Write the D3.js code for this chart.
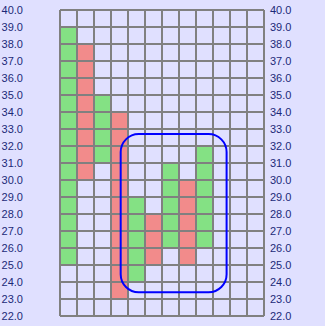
<!DOCTYPE html>
<html><head><meta charset="utf-8">
<script src="https://cdn.jsdelivr.net/npm/d3@7"></script>
<style>html,body{margin:0;padding:0;background:#e0e0ff;}svg{display:block;}</style>
</head><body>
<script>
const categories = ["0","1","2","3","4","5","6","7","8","9","10","11"];
const lows  = [25, 30, 31, 23, 24, 25, 26, 25, 26];
const highs = [39, 38, 35, 34, 29, 28, 31, 30, 32];
const kinds = ["up","down","up","down","up","down","up","down","up"];
const yTicks = [22,23,24,25,26,27,28,29,30,31,32,33,34,35,36,37,38,39,40];
const highlight = {x0: 3.57, x1: 9.8, y0: 23.4, y1: 32.7};

const W = 325, H = 326;
const m = {left: 60, right: 61, top: 10, bottom: 10};
const svg = d3.select("body").append("svg").attr("width", W).attr("height", H);
svg.append("rect").attr("width", W).attr("height", H).attr("fill", "#e0e0ff");

const x = d3.scaleBand().domain(categories).range([m.left, W - m.right]).padding(0);
const xl = d3.scaleLinear().domain([0, categories.length]).range([m.left, W - m.right]);
const y = d3.scaleLinear().domain([22, 40]).range([H - m.bottom, m.top]);

const colors = {up: "#84e184", down: "#f28b8b"};
svg.append("g").selectAll("rect").data(lows).join("rect")
  .attr("x", (d, i) => x(categories[i]))
  .attr("width", x.bandwidth())
  .attr("y", (d, i) => y(highs[i]))
  .attr("height", (d, i) => y(lows[i]) - y(highs[i]))
  .attr("fill", (d, i) => colors[kinds[i]]);

const grid = svg.append("g").attr("stroke", "#808080").attr("stroke-width", 1.5).attr("shape-rendering", "crispEdges");
grid.selectAll("line.h").data(yTicks).join("line").attr("class", "h")
  .attr("x1", m.left).attr("x2", W - m.right)
  .attr("y1", d => Math.round(y(d))).attr("y2", d => Math.round(y(d)));
grid.selectAll("line.v").data(d3.range(categories.length + 1)).join("line").attr("class", "v")
  .attr("y1", m.top).attr("y2", H - m.bottom)
  .attr("x1", d => Math.round(xl(d))).attr("x2", d => Math.round(xl(d)));

const left = svg.append("g").attr("transform", `translate(${m.left - 37},0)`)
  .call(d3.axisLeft(y).tickValues(yTicks).tickFormat(d3.format(".1f")).tickSize(0).tickPadding(0));
const right = svg.append("g").attr("transform", `translate(${W - m.right + 6},0)`)
  .call(d3.axisRight(y).tickValues(yTicks).tickFormat(d3.format(".1f")).tickSize(0).tickPadding(0));
[left, right].forEach(g => {
  g.select(".domain").remove();
  g.selectAll("text").attr("font-family", "Liberation Sans, Arial, sans-serif").attr("font-size", 11).attr("fill", "#1c2a78");
});

svg.append("rect")
  .attr("x", xl(highlight.x0)).attr("y", y(highlight.y1))
  .attr("width", xl(highlight.x1) - xl(highlight.x0))
  .attr("height", y(highlight.y0) - y(highlight.y1))
  .attr("rx", 18).attr("ry", 18)
  .attr("fill", "none").attr("stroke", "#0000ff").attr("stroke-width", 2);
</script>
</body></html>
